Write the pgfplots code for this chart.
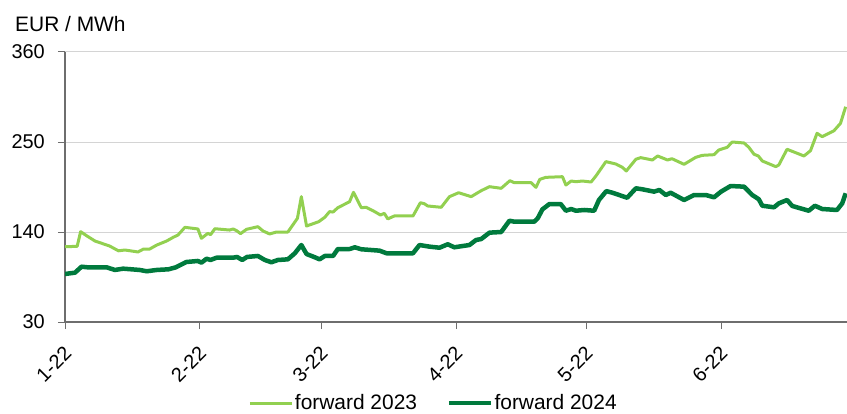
\documentclass[border=0pt]{standalone}
\usepackage{fontspec}
\setmainfont{Liberation Sans}
\usepackage{pgfplots}
\pgfplotsset{compat=1.18}
\definecolor{lg}{RGB}{146,208,80}
\definecolor{dg}{RGB}{0,122,61}
\definecolor{axg}{RGB}{110,110,110}
\definecolor{grd}{RGB}{212,212,212}
\begin{document}
\begin{tikzpicture}[x=1bp,y=1bp]
\begin{axis}[
  at={(0,0)}, anchor=south west,
  scale only axis, width=782bp, height=270bp,
  xmin=0, xmax=180, ymin=30, ymax=360,
  ytick={30,140,250,360}, yticklabels={30,140,250,360},
  xtick={0,31,59,90,120,151},
  xticklabels={1-22,2-22,3-22,4-22,5-22,6-22},
  axis x line*=bottom, axis y line*=left,
  axis line style={axg, line width=1.2bp},
  ymajorgrids, grid style={grd, line width=1bp},
  tick align=outside, major tick length=7bp,
  tick style={axg, line width=1bp},
  yticklabel style={font=\fontsize{20}{24}\selectfont, anchor=east, inner sep=0pt, xshift=-13bp},
  xticklabel style={font=\fontsize{20}{24}\selectfont, xshift=3bp, yshift=-21bp, rotate=45, anchor=east, inner sep=0pt},
  legend style={at={(axis description cs:0.471,-0.30)}, anchor=center, draw=none, fill=none,
    legend columns=2, font=\fontsize{21}{25}\selectfont, inner sep=0pt,
    nodes={inner sep=1.5bp}, /tikz/every even column/.append style={column sep=28bp}},
  legend image code/.code={\draw[#1] (0bp,0bp) -- (42bp,0bp);},
  line join=round,
]
\addplot[lg, line width=3bp] coordinates {
(0,122) (2.8,122.5) (3.6,140.4) (5.1,135) (6.9,129) (10.3,122.8) (12.3,117) (13.8,118)
(16.8,115.6) (18.0,119) (19.5,119.2) (21.1,124) (23.4,129) (24.9,133.5) (26.0,136.3)
(27.6,145.7) (30.6,143.7) (31.4,132.3) (32.9,138.4) (33.5,136.7) (34.5,144) (37.9,142.4)
(38.7,143.7) (39.5,141.6) (40.4,138) (41.8,143.3) (44.4,146.5) (45.6,141.2) (47.1,137.6)
(48.7,140) (51.3,140) (53.5,156.7) (54.4,183.2) (55.6,147.3) (58.4,152.6) (59.8,158)
(60.9,164.9) (61.7,164.4) (62.8,169.7) (65.5,177) (66.4,188.5) (68.2,169.7) (69.3,170.2)
(70.9,166) (72.6,160.8) (73.5,162.8) (74.3,156) (75.8,159.6) (80.1,159.6) (81.8,175.8)
(82.7,174.6) (83.5,171.8) (86.6,170.2) (88.5,183.2) (90.6,188) (93.5,183.2) (95.8,190.5)
(97.7,195.4) (100.4,193.4) (102.4,202.7) (103.4,200.3) (107.3,200.3) (108.4,194.6)
(109.3,204.4) (110.7,206.8) (114.5,207.6) (115.3,197.4) (116.5,202.3) (117.6,201.5)
(119.1,202.3) (121.1,201.1) (122.2,208.4) (124.5,226) (126.8,223.1) (128.3,219)
(129.2,214.6) (131.4,228.9) (132.5,230.9) (135.2,228) (136.4,232.9) (138.7,228)
(139.7,229.6) (142.5,222.7) (145.2,231.3) (146.7,233.7) (149.4,234.5) (150.5,240.2)
(152.4,243.5) (153.6,250) (156.3,248.8) (157.4,243.5) (158.6,235) (159.6,232.9)
(160.5,226.8) (163.6,219.9) (164.3,221.9) (166.2,241.1) (170.1,232.9) (171.6,239.4)
(173.1,260.6) (174.3,256.5) (177.0,263.8) (178.5,272.8) (179.7,293.1)
};
\addlegendentry{forward 2023}
\addplot[dg, line width=4.5bp] coordinates {
(0,88.7) (2.3,90.3) (3.8,97.6) (5.3,96.8) (9.6,96.8) (11.5,93.6) (13.4,95.2) (17.2,93.6)
(18.8,92) (21.1,93.6) (23.8,94.4) (25.5,96.8) (27.9,103.3) (30.6,104.6) (31.4,102.5)
(32.6,107.4) (33.5,105.8) (34.9,108.6) (38.7,108.6) (39.6,109.5) (40.8,105.8) (41.9,109.5)
(44.4,110.7) (46.0,105.8) (47.5,103) (49.0,105.8) (51.3,106.6) (52.9,114) (54.4,124.1)
(55.6,113.1) (57.5,109.1) (58.6,106.6) (59.8,110.7) (61.7,110.7) (62.8,119.2) (65.5,119.2)
(66.7,121.3) (68.2,118.9) (72.4,117.2) (74.0,114) (80.1,114) (81.6,124.1) (83.9,122.1)
(86.2,120.8) (88.1,125) (89.6,121.3) (93.1,124.1) (94.6,130.2) (95.8,131.4) (97.7,139.2)
(100.4,140) (102.3,153.8) (103.4,152.6) (108.0,152.6) (108.8,156.7) (109.9,167.7)
(111.5,174.2) (114.1,174.2) (115.3,166) (116.5,168.1) (117.6,166) (119.5,166.9)
(121.8,166) (122.9,179.1) (124.6,190) (126.0,188) (129.4,181.9) (131.4,193.4)
(132.9,192.2) (135.6,189.3) (136.8,191.4) (138.3,185.2) (139.4,188) (142.5,179.1)
(144.8,185.2) (147.5,185.2) (149.4,182.4) (151.0,189.3) (153.2,196.2) (156.3,195.4)
(158.2,185.2) (159.7,180) (160.5,172.1) (163.2,170.2) (164.3,175) (166.2,179.1)
(167.4,171.8) (171.2,166) (172.6,172.1) (174.3,168.1) (177.7,166.9) (178.9,175) (179.7,187.3)
};
\addlegendentry{forward 2024}
\end{axis}
\node[anchor=base west, font=\fontsize{21}{25}\selectfont, inner sep=0pt] at (-50bp,290bp) {EUR / MWh};
\pgfresetboundingbox
\path (-65bp,-92bp) rectangle (782bp,322bp);
\end{tikzpicture}
\end{document}
